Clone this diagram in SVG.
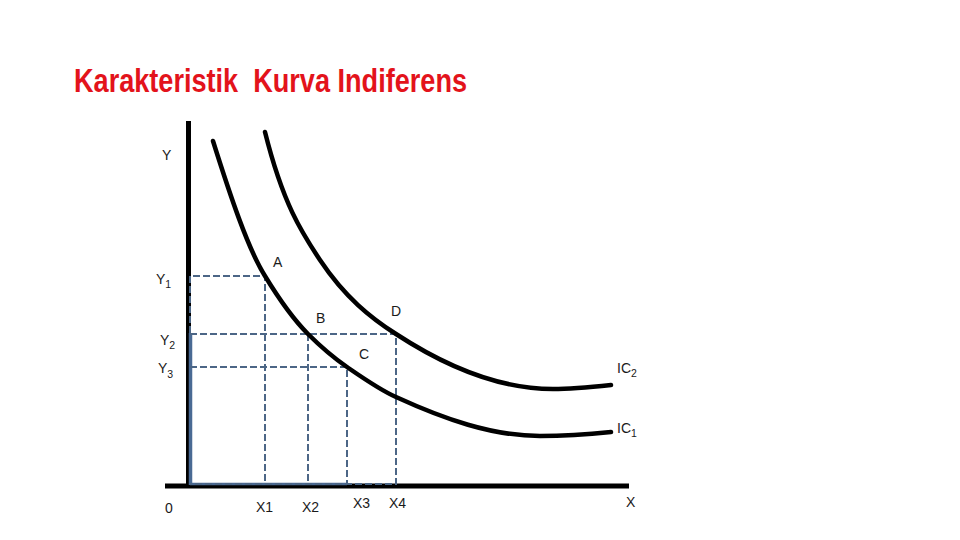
<svg xmlns="http://www.w3.org/2000/svg" width="960" height="540" viewBox="0 0 960 540">
<style>
.lbl{font-family:"Liberation Sans",Arial,sans-serif;font-size:14px;fill:#1a1a1a}
.sub{font-size:10.5px}
.guide{fill:none;stroke:#4c6686;stroke-width:2;stroke-dasharray:7 3}
.curve{fill:none;stroke:#000;stroke-width:4.5;stroke-linecap:round}
.axis{stroke:#000;stroke-width:5}
</style>
<rect width="960" height="540" fill="#fff"/>
<g id="title">
<text x="74" y="92" xml:space="preserve" style="white-space:pre" font-family="Liberation Sans,Arial,sans-serif" font-size="33" font-weight="bold" fill="#e3131b" textLength="393" lengthAdjust="spacingAndGlyphs">Karakteristik  Kurva Indiferens</text>
</g>
<g id="axes">
<line class="axis" x1="188.5" y1="121" x2="188.5" y2="488"/>
<line class="axis" x1="165" y1="486" x2="629" y2="486"/>
</g>
<g id="guides">
<line x1="190.5" y1="333" x2="190.5" y2="485" stroke="#4a6a94" stroke-width="3.5"/>
<line x1="190" y1="484" x2="347" y2="484" stroke="#4a6a94" stroke-width="2.5"/>
<polyline class="guide" points="190,333 190,276 265,276 265,484"/>
<polyline class="guide" points="190,334 396,334 396,484 190,484"/>
<line class="guide" x1="308" y1="334" x2="308" y2="484"/>
<polyline class="guide" points="190,367 347,367 347,484"/>
</g>
<g id="curves">
<path id="IC1" class="curve" d="M213,141 C230,195 248,249 265,276 C279,299 294,320 308,334 C321,347 334,358 347,367 C363,378 380,390 396,397 C444,419 492,436 540,436 C564,436 587,434.5 611,432"/>
<path id="IC2" class="curve" d="M265,132 C283,204 302,233 320,260 C345,297.5 371,318 396,334 C448,368 501,389 553,389 C572,389 592,387 611,385"/>
</g>
<g id="labels">
<text class="lbl" x="162" y="160">Y</text>
<text class="lbl" x="156" y="284">Y<tspan class="sub" dy="4">1</tspan></text>
<text class="lbl" x="160" y="345">Y<tspan class="sub" dy="4">2</tspan></text>
<text class="lbl" x="158" y="373">Y<tspan class="sub" dy="5">3</tspan></text>
<text class="lbl" x="273" y="267">A</text>
<text class="lbl" x="316" y="323">B</text>
<text class="lbl" x="391" y="316">D</text>
<text class="lbl" x="359" y="359">C</text>
<text class="lbl" x="617" y="373">IC<tspan class="sub" dy="4">2</tspan></text>
<text class="lbl" x="617" y="433">IC<tspan class="sub" dy="4">1</tspan></text>
<text class="lbl" x="165" y="513">0</text>
<text class="lbl" x="256" y="512">X1</text>
<text class="lbl" x="302" y="512">X2</text>
<text class="lbl" x="353" y="508">X3</text>
<text class="lbl" x="389" y="508">X4</text>
<text class="lbl" x="626" y="507">X</text>
</g>
</svg>
